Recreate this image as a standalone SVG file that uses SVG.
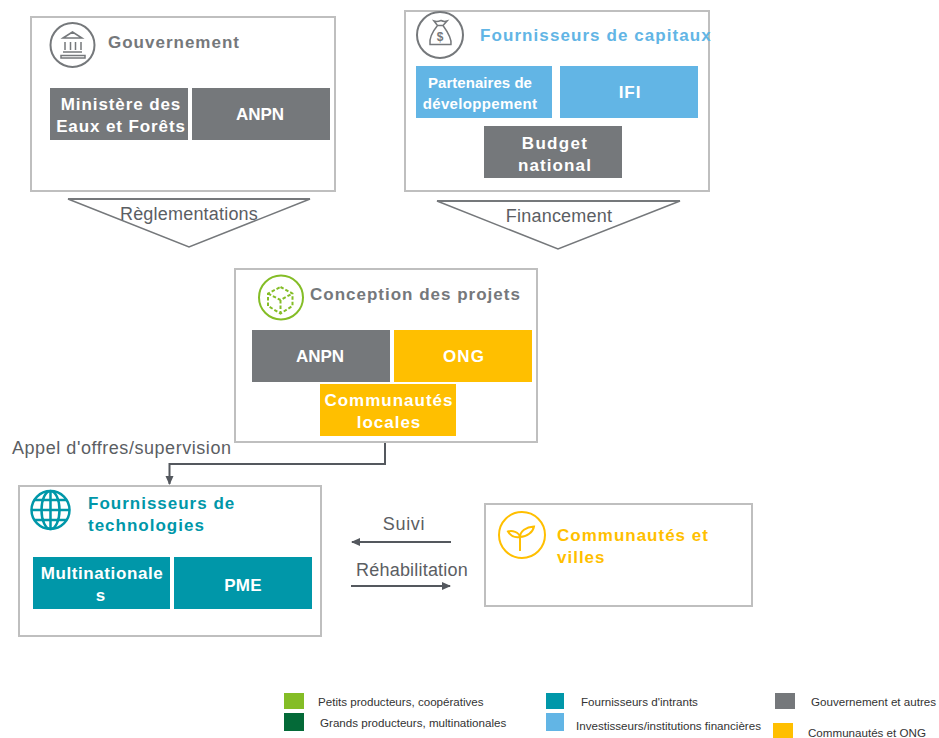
<svg xmlns="http://www.w3.org/2000/svg" width="939" height="738" viewBox="0 0 939 738">
<style>
text{font-family:"Liberation Sans",Arial,sans-serif}
.box{fill:#fff;stroke:#bfbfbf;stroke-width:2}
.t{font-size:17px;font-weight:700;letter-spacing:1px}
.w{fill:#fff;font-size:17px;font-weight:700;text-anchor:middle;letter-spacing:.9px}
.g{fill:#75787b}.b{fill:#62b5e5}.y{fill:#ffbf00}.c{fill:#0097a9}
.l{font-size:18px;fill:#5b5e63;letter-spacing:.2px}
.lg{font-size:11.600px;fill:#333}
.ic{fill:none;stroke-width:2}
.conn{fill:none;stroke:#54585e;stroke-width:2}
</style>
<defs><marker id="a" markerWidth="10" markerHeight="10" refX="8" refY="4" orient="auto" markerUnits="userSpaceOnUse"><path d="M0 0L9 4L0 8z" fill="#54585e"/></marker></defs>
<g id="connectors">
<path d="M385 443V464H169.500V484" class="conn" marker-end="url(#a)"/>
<path d="M451 542H352" class="conn" marker-end="url(#a)"/>
<path d="M351 586H450" class="conn" marker-end="url(#a)"/>
<path d="M68 199H310L189 247z" fill="#fff" stroke="#75787b" stroke-width="1.500"/><path d="M68 199H310" stroke="#75787b" stroke-width="2"/>
<path d="M437 201H680L558 249z" fill="#fff" stroke="#75787b" stroke-width="1.500"/><path d="M437 201H680" stroke="#75787b" stroke-width="2"/>
<text x="189" y="220" text-anchor="middle" class="l">Règlementations</text>
<text x="559" y="222" text-anchor="middle" class="l">Financement</text>
<text x="12" y="454" class="l" style="letter-spacing:.55px">Appel d'offres/supervision</text>
<text x="404" y="530" text-anchor="middle" class="l" style="letter-spacing:.7px">Suivi</text>
<text x="412" y="576" text-anchor="middle" class="l">Réhabilitation</text>
</g>
<g id="gouvernement">
<rect x="31" y="17" width="304" height="174" class="box"/>
<g class="ic" stroke="#75787b"><circle cx="72.500" cy="45" r="22"/><path stroke-width="1.500" d="M63 38L72.500 32L82 38zM65 42V50M70.500 42V50M75.500 42V50M81 42V50M63 52H82M61 58H85V55.500H61z"/></g>
<text x="108" y="48" class="t" fill="#75787b">Gouvernement</text>
<rect x="50" y="88" width="138" height="52" class="g"/><rect x="192" y="88" width="138" height="52" class="g"/>
<text x="121" y="110" class="w">Ministère des</text><text x="121" y="132" class="w">Eaux et Forêts</text>
<text x="260" y="120" class="w" style="letter-spacing:0">ANPN</text>
</g>
<g id="capitaux">
<rect x="405" y="11" width="304" height="180" class="box"/>
<g class="ic" stroke="#75787b"><circle cx="440" cy="35" r="23"/><path stroke-width="1.500" d="M434 21L437.500 25.500H443L447 21Q444 22 441 20.500Q437 22 434 21zM437.500 25.500C433 31 429 38 430 44.500H451C452 38 447 31 443 25.500"/></g>
<text x="440" y="41" text-anchor="middle" font-size="12" font-weight="700" fill="#75787b">$</text>
<text x="480" y="41" class="t b" style="letter-spacing:1.080px">Fournisseurs de capitaux</text>
<rect x="416" y="66" width="136" height="52" class="b"/><rect x="560" y="66" width="138" height="52" class="b"/>
<rect x="484" y="126" width="138" height="52" class="g"/>
<text x="480" y="88" class="w" style="font-size:15px;letter-spacing:.04px">Partenaires de</text><text x="480" y="109" class="w" style="font-size:15px;letter-spacing:.35px">développement</text>
<text x="630" y="98" class="w">IFI</text>
<text x="555" y="149" class="w" style="letter-spacing:1.300px">Budget</text><text x="555" y="171" class="w" style="letter-spacing:1.100px">national</text>
</g>
<g id="conception">
<rect x="235" y="269" width="302" height="173" class="box"/>
<g class="ic" stroke="#84bd26"><circle cx="281" cy="297.500" r="22"/><path stroke-dasharray="3.500 2" d="M280.500 287L292.500 293.500V306L280.500 313.500L268 306V293.500zM268 293.500L280.500 300L292.500 293.500M280.500 300V313.500"/></g>
<text x="310" y="300" class="t" fill="#75787b">Conception des projets</text>
<rect x="252" y="330" width="138" height="52" class="g"/><rect x="394" y="330" width="138" height="52" class="y"/>
<rect x="320" y="384" width="136" height="52" class="y"/>
<text x="320" y="362" class="w" style="letter-spacing:0">ANPN</text><text x="464" y="362" class="w" style="letter-spacing:1.100px">ONG</text>
<text x="389" y="406" class="w" style="letter-spacing:1px">Communautés</text><text x="389" y="428" class="w" style="letter-spacing:1px">locales</text>
</g>
<g id="technologies">
<rect x="19" y="486" width="302" height="150" class="box"/>
<g class="ic" stroke="#0097a9" style="stroke-width:2.500px"><circle cx="50.500" cy="510" r="19"/><ellipse cx="50.500" cy="510" rx="9" ry="19"/><path d="M50.500 491V529M32 510H69M35 500H66M35 520H66"/></g>
<text x="88" y="509" class="t c">Fournisseurs de</text><text x="88" y="531" class="t c">technologies</text>
<rect x="33" y="557" width="137" height="52" class="c"/><rect x="174" y="557" width="138" height="52" class="c"/>
<text x="102" y="579" class="w" style="letter-spacing:.6px">Multinationale</text><text x="101" y="601" class="w">s</text>
<text x="243" y="591" class="w" style="letter-spacing:.2px">PME</text>
</g>
<g id="communautes">
<rect x="485" y="504" width="267" height="102" class="box"/>
<g class="ic" stroke="#ffbf00"><circle cx="522" cy="535" r="23"/><path d="M520 551V537M508 531.500C512 530 519 532 520 537C514 538 510 535 508 531.500zM520 537C520 531 526 527 534 526.500C533 532 527 537 520 537z"/></g>
<text x="557" y="541" class="t y">Communautés et</text><text x="557" y="563" class="t y">villes</text>
</g>
<g id="legend">
<rect x="284" y="693" width="20" height="16" fill="#84bd26"/><text x="318" y="706" class="lg">Petits producteurs, coopératives</text>
<rect x="284" y="713" width="20" height="18" fill="#046a38"/><text x="320" y="727" class="lg">Grands producteurs, multinationales</text>
<rect x="546" y="693" width="18" height="16" class="c"/><text x="581" y="706" class="lg">Fournisseurs d'intrants</text>
<rect x="546" y="713" width="18" height="18" class="b"/><text x="576" y="730" class="lg">Investisseurs/institutions financières</text>
<rect x="775" y="693" width="20" height="16" class="g"/><text x="811" y="706" class="lg">Gouvernement et autres</text>
<rect x="773" y="723" width="20" height="15" class="y"/><text x="808" y="737" class="lg">Communautés et ONG</text>
</g>
</svg>
